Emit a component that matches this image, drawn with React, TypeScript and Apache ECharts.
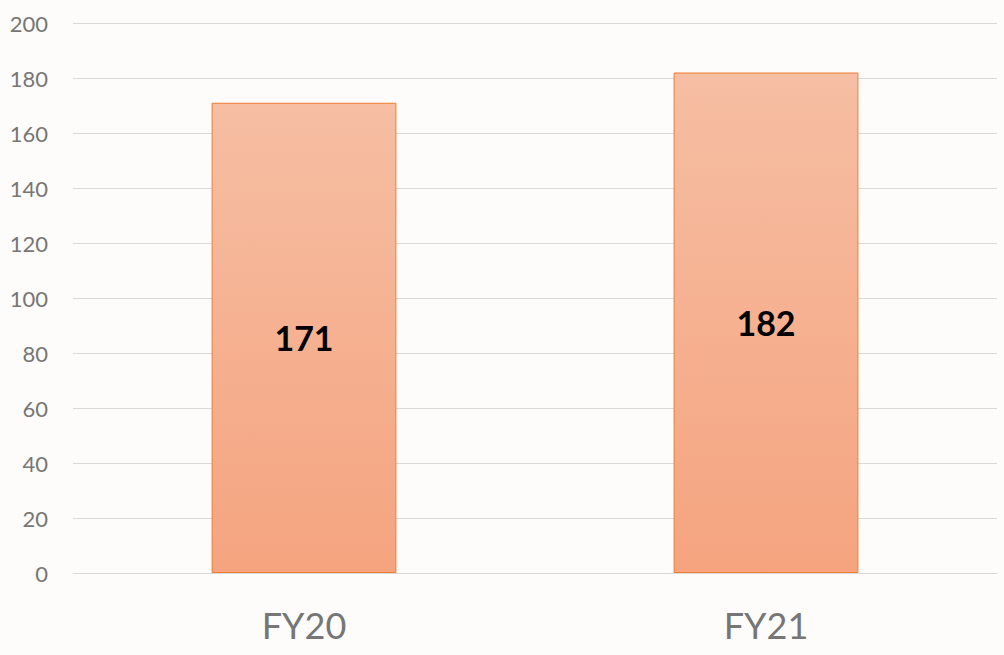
import React, { useEffect, useRef } from "react";
import * as echarts from "echarts";

const categories = ["FY20", "FY21"];
const values = [171, 182];
const yTicks = { min: 0, max: 200, interval: 20 };

export default function App() {
  const ref = useRef<HTMLDivElement>(null);
  useEffect(() => {
    const chart = echarts.init(ref.current!, null, { renderer: "svg" });
    chart.setOption({
      animation: false,
      backgroundColor: "#fdfcfb",
      grid: { left: 73, right: 7, top: 23, bottom: 82 },
      xAxis: {
        type: "category",
        data: categories,
        axisLine: { lineStyle: { color: "#d9d9d9", width: 1 } },
        axisTick: { show: false },
        axisLabel: { color: "#767676", fontSize: 36, fontFamily: "Lato", margin: 34 },
      },
      yAxis: {
        type: "value",
        min: yTicks.min,
        max: yTicks.max,
        interval: yTicks.interval,
        axisLine: { show: false },
        axisTick: { show: false },
        splitLine: { lineStyle: { color: "#d9d9d9", width: 1 } },
        axisLabel: { color: "#767676", fontSize: 22, fontFamily: "Lato", margin: 25 },
      },
      series: [
        {
          type: "bar",
          data: values,
          barCategoryGap: "60%",
          itemStyle: {
            color: new echarts.graphic.LinearGradient(0, 0, 0, 1, [
              { offset: 0, color: "#f6bea3" },
              { offset: 1, color: "#f5a47f" },
            ]),
            borderColor: "#ed7d31",
            borderWidth: 1,
          },
          label: {
            show: true,
            position: "inside",
            color: "#000",
            fontSize: 34,
            fontWeight: "bold",
            fontFamily: "Lato",
          },
        },
      ],
    });
    return () => chart.dispose();
  }, []);
  return (
    <div
      ref={ref}
      style={{ position: "absolute", left: 0, top: 0, width: 1004, height: 655 }}
    />
  );
}
